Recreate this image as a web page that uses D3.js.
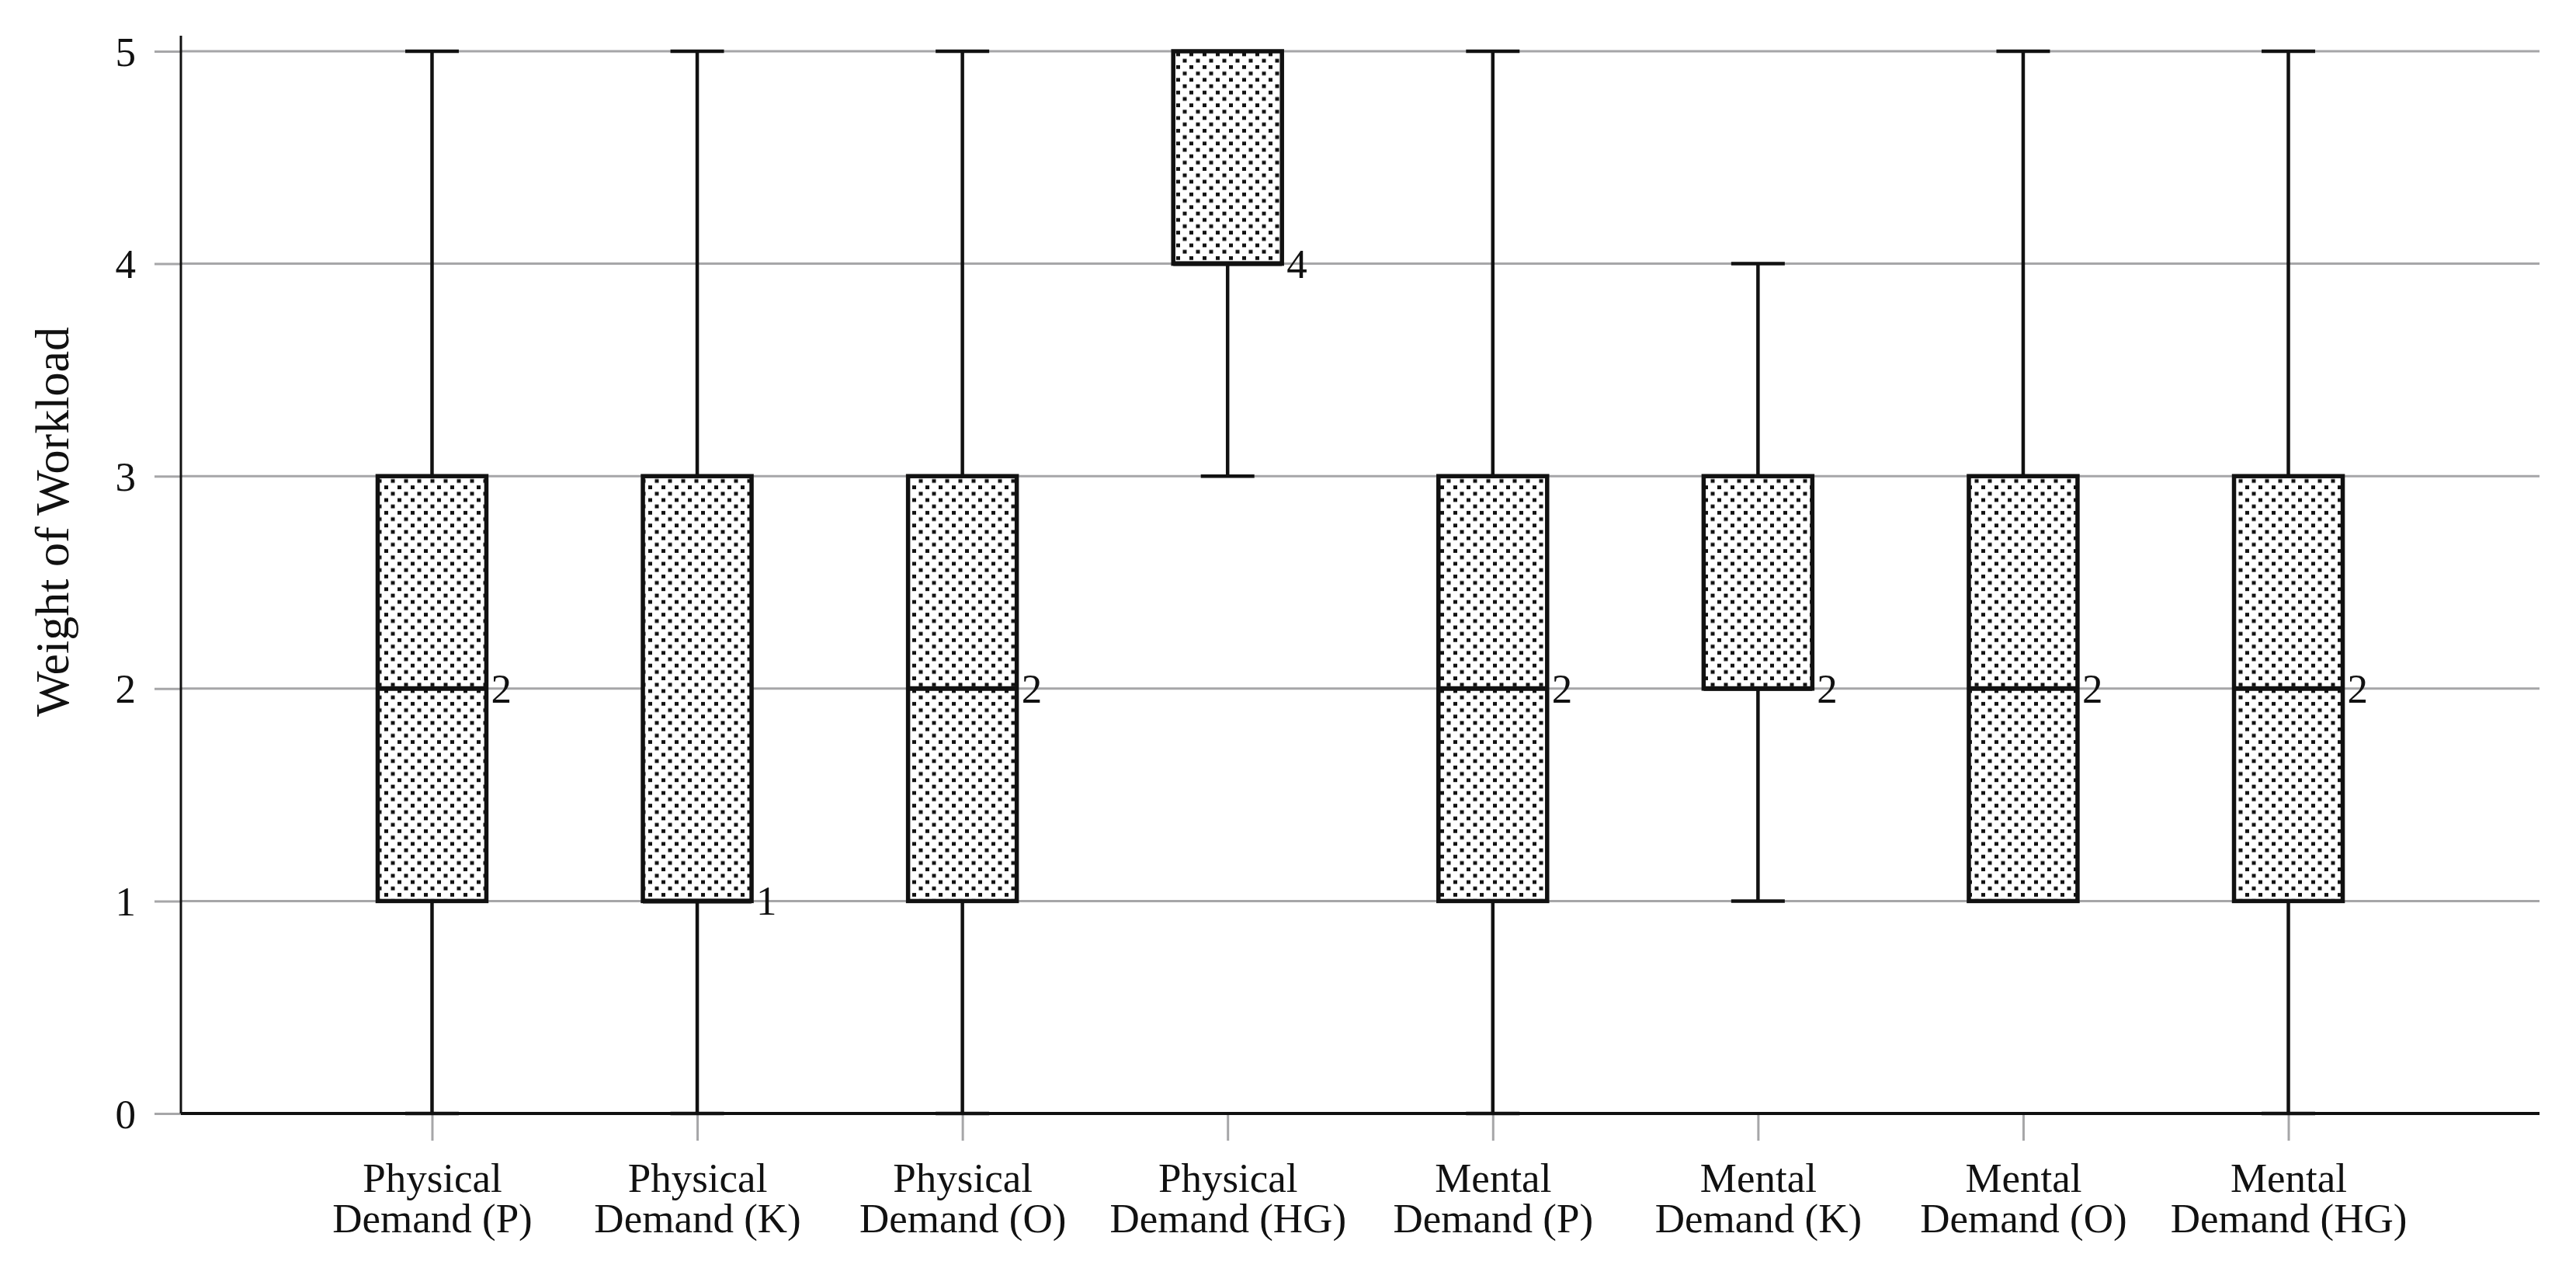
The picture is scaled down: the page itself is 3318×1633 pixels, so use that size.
<!DOCTYPE html>
<html>
<head>
<meta charset="utf-8">
<script src="https://cdn.jsdelivr.net/npm/d3@7"></script>
<style>
  html, body { margin: 0; padding: 0; background: #fff; }
  svg { display: block; }
  text { font-family: "Liberation Serif", "Times New Roman", serif; fill: #111; }
</style>
</head>
<body>
<svg id="chart" width="3318" height="1633"></svg>
<script>
// ---- data ----
const categoriesLine1 = ["Physical", "Physical", "Physical", "Physical", "Mental", "Mental", "Mental", "Mental"];
const categoriesLine2 = ["Demand (P)", "Demand (K)", "Demand (O)", "Demand (HG)", "Demand (P)", "Demand (K)", "Demand (O)", "Demand (HG)"];
const whiskerLow  = [0, 0, 0, 3, 0, 1, 1, 0];
const q1Values    = [1, 1, 1, 4, 1, 2, 1, 1];
const medians     = [2, 1, 2, 4, 2, 2, 2, 2];
const q3Values    = [3, 3, 3, 5, 3, 3, 3, 3];
const whiskerHigh = [5, 5, 5, 5, 5, 4, 5, 5];
const yTicks = [0, 1, 2, 3, 4, 5];
const yTitle = "Weight of Workload";

(function () {
const keys = categoriesLine2.map((d, i) => categoriesLine1[i] + " " + d);
const rows = keys.map((k, i) => ({
  key: k, lo: whiskerLow[i], q1: q1Values[i], med: medians[i], q3: q3Values[i], hi: whiskerHigh[i]
}));

// ---- layout ----
const svg = d3.select("#chart");
const mLeft = 233, mRight = 3271, mTop = 66, mBottom = 1434;
const boxW = 140, capW = 69;

const x = d3.scalePoint().domain(keys).range([mLeft, mRight]).padding(0.947);
const y = d3.scaleLinear().domain([0, 5]).range([mBottom, mTop]);

// pattern
const defs = svg.append("defs");
const pat = defs.append("pattern")
  .attr("id", "dots").attr("patternUnits", "userSpaceOnUse")
  .attr("width", 17).attr("height", 16.4);
pat.append("rect").attr("width", 17).attr("height", 16.4).attr("fill", "#fff");
pat.append("rect").attr("x", 2).attr("y", 2).attr("width", 5).attr("height", 4.8).attr("fill", "#111");
pat.append("rect").attr("x", 10.5).attr("y", 10.2).attr("width", 5).attr("height", 4.8).attr("fill", "#111");

// gridlines
svg.append("g").selectAll("line").data(yTicks.filter(t => t > 0)).join("line")
  .attr("x1", mLeft).attr("x2", mRight)
  .attr("y1", d => y(d)).attr("y2", d => y(d))
  .attr("stroke", "#a6a6a8").attr("stroke-width", 3);

// y axis
const yAxis = svg.append("g").attr("transform", `translate(${mLeft},0)`)
  .call(d3.axisLeft(y).tickValues(yTicks).tickFormat(d3.format("d")).tickSize(34).tickPadding(24));
yAxis.select(".domain").remove();
yAxis.selectAll(".tick line").attr("stroke", "#a6a6a8").attr("stroke-width", 3);
yAxis.selectAll(".tick text").attr("font-size", 53).attr("fill", "#111")
  .attr("font-family", "Liberation Serif, serif").attr("dy", "0.34em");
svg.append("line").attr("x1", mLeft).attr("x2", mLeft).attr("y1", 46).attr("y2", mBottom)
  .attr("stroke", "#111").attr("stroke-width", 3);

// x axis
const xAxis = svg.append("g").attr("transform", `translate(0,${mBottom})`)
  .call(d3.axisBottom(x).tickSize(35).tickFormat(""));
xAxis.select(".domain").remove();
xAxis.selectAll(".tick line").attr("stroke", "#a6a6a8").attr("stroke-width", 3);
xAxis.selectAll(".tick").each(function(d, i) {
  const t = d3.select(this).append("text").attr("text-anchor", "middle")
    .attr("font-size", 53).attr("fill", "#111").attr("font-family", "Liberation Serif, serif");
  t.append("tspan").attr("x", 0).attr("y", 101).text(categoriesLine1[i]);
  t.append("tspan").attr("x", 0).attr("y", 153).text(categoriesLine2[i]);
});

// boxes
const g = svg.append("g");
const box = g.selectAll("g.box").data(rows).join("g").attr("class", "box");
box.filter(d => d.hi > d.q3).append("line")
  .attr("x1", d => x(d.key)).attr("x2", d => x(d.key))
  .attr("y1", d => y(d.q3)).attr("y2", d => y(d.hi))
  .attr("stroke", "#111").attr("stroke-width", 4.5);
box.filter(d => d.lo < d.q1).append("line")
  .attr("x1", d => x(d.key)).attr("x2", d => x(d.key))
  .attr("y1", d => y(d.q1)).attr("y2", d => y(d.lo))
  .attr("stroke", "#111").attr("stroke-width", 4.5);
box.filter(d => d.hi > d.q3).append("line")
  .attr("x1", d => x(d.key) - capW / 2).attr("x2", d => x(d.key) + capW / 2)
  .attr("y1", d => y(d.hi)).attr("y2", d => y(d.hi))
  .attr("stroke", "#111").attr("stroke-width", 4.5);
box.append("rect")
  .attr("x", d => x(d.key) - boxW / 2).attr("width", boxW)
  .attr("y", d => y(d.q3)).attr("height", d => y(d.q1) - y(d.q3))
  .attr("fill", "url(#dots)").attr("stroke", "#111").attr("stroke-width", 5.5);
box.append("line")
  .attr("x1", d => x(d.key) - boxW / 2).attr("x2", d => x(d.key) + boxW / 2)
  .attr("y1", d => y(d.med)).attr("y2", d => y(d.med))
  .attr("stroke", "#111").attr("stroke-width", 6);
box.append("text")
  .attr("x", d => x(d.key) + boxW / 2 + 6).attr("y", d => y(d.med))
  .attr("dy", "0.34em").attr("font-size", 53).attr("fill", "#111")
  .text(d => d.med);

// x axis line
svg.append("line").attr("x1", mLeft).attr("x2", mRight).attr("y1", mBottom).attr("y2", mBottom)
  .attr("stroke", "#111").attr("stroke-width", 4);
// bottom caps drawn over axis line
svg.append("g").selectAll("line").data(rows.filter(d => d.lo < d.q1)).join("line")
  .attr("x1", d => x(d.key) - capW / 2).attr("x2", d => x(d.key) + capW / 2)
  .attr("y1", d => y(d.lo)).attr("y2", d => y(d.lo))
  .attr("stroke", "#111").attr("stroke-width", 4.5);

// y title
svg.append("text")
  .attr("transform", `translate(88,672) rotate(-90)`)
  .attr("text-anchor", "middle").attr("font-size", 62)
  .text(yTitle);
})();
</script>
</body>
</html>
